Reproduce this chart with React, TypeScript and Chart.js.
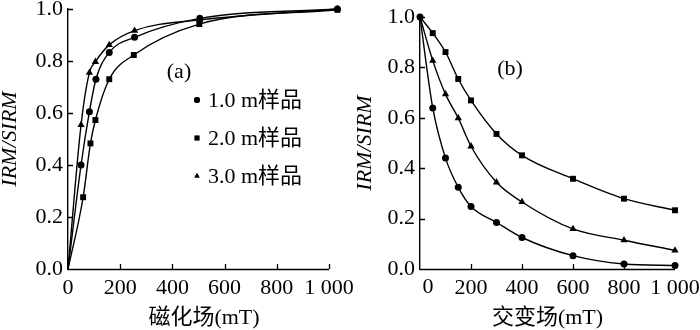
import React, { useEffect, useRef } from "react";
import { Chart, registerables } from "chart.js";
import { drawPoint } from "chart.js/helpers";

Chart.register(...registerables);

// ---------- data ----------
const SERIES_NAMES = ["1.0 m样品", "2.0 m样品", "3.0 m样品"];
const POINT_STYLES = ["circle", "rect", "triangle"];

// (a) IRM acquisition
const A_X_CIRCLE = [0, 50, 82, 107, 158, 255, 505, 1032];
const A_Y_CIRCLE = [0, 0.4, 0.605, 0.73, 0.833, 0.891, 0.964, 1.0];
const A_X_SQUARE = [0, 58, 86, 105, 158, 252, 503, 1032];
const A_Y_SQUARE = [0, 0.276, 0.483, 0.573, 0.73, 0.823, 0.942, 0.997];
const A_X_TRI = [0, 50, 82, 105, 158, 255, 505, 1032];
const A_Y_TRI = [0, 0.554, 0.755, 0.797, 0.862, 0.917, 0.958, 1.0];

// (b) AF demagnetisation
const B_X = [0, 50, 100, 150, 200, 300, 400, 600, 800, 1000];
const B_Y_CIRCLE = [1, 0.639, 0.44, 0.324, 0.248, 0.185, 0.125, 0.053, 0.02, 0.014];
const B_Y_SQUARE = [1, 0.936, 0.861, 0.754, 0.669, 0.536, 0.451, 0.358, 0.279, 0.233];
const B_Y_TRI = [1, 0.827, 0.694, 0.599, 0.487, 0.344, 0.266, 0.159, 0.114, 0.074];

const X_TICKS = [0, 200, 400, 600, 800, 1000];
const Y_TICKS = [0, 0.2, 0.4, 0.6, 0.8, 1.0];

const X_TITLE_A = "磁化场(mT)";
const X_TITLE_B = "交变场(mT)";
const Y_TITLE = "IRM/SIRM";

const FONT = "'Liberation Serif', 'Times New Roman', 'Noto Sans CJK SC', serif";
const FS = 22;

const pts = (xs: number[], ys: number[]) => xs.map((x, i) => ({ x, y: ys[i] }));

// ---------- plugin: axis line, inward ticks, panel label, legend, shifted zero label ----------
const extras = {
  id: "extras",
  afterDraw(chart: any, _args: any, opts: any) {
    const { ctx, chartArea } = chart;
    const xs = chart.scales.x;
    const ys = chart.scales.y;
    ctx.save();
    ctx.strokeStyle = "#000";
    ctx.lineWidth = 1.4;
    // x axis line from 0 to 1000
    ctx.beginPath();
    const by = Math.round(chartArea.bottom) + 0.5;
    ctx.moveTo(xs.getPixelForValue(0), by);
    ctx.lineTo(xs.getPixelForValue(1000), by);
    ctx.stroke();

    ctx.lineWidth = 1.3;
    ctx.beginPath();
    X_TICKS.forEach((v) => {
      if (v === 0) return;
      const px = Math.round(xs.getPixelForValue(v)) + 0.5;
      ctx.moveTo(px, chartArea.bottom);
      ctx.lineTo(px, chartArea.bottom - 5);
    });
    Y_TICKS.forEach((v) => {
      if (v === 0) return;
      const py = Math.round(ys.getPixelForValue(v)) + 0.5;
      ctx.moveTo(chartArea.left, py);
      ctx.lineTo(chartArea.left + 5, py);
    });
    ctx.stroke();

    ctx.fillStyle = "#000";
    ctx.font = `${FS}px ${FONT}`;
    ctx.textAlign = "center";
    ctx.textBaseline = "middle";
    ctx.fillText(opts.label, chartArea.left + opts.labelDx, chartArea.top + opts.labelDy);

    if (opts.zeroShift) {
      ctx.textBaseline = "top";
      ctx.fillText("0", xs.getPixelForValue(0) + opts.zeroShift, chartArea.bottom + 7);
    }

    if (opts.legend) {
      ctx.textAlign = "left";
      ctx.textBaseline = "middle";
      SERIES_NAMES.forEach((name, i) => {
        const ly = chartArea.top + opts.legendY + i * 38;
        const lx = chartArea.left + opts.legendX;
        drawPoint(ctx, { pointStyle: POINT_STYLES[i], radius: i === 1 ? 3.4 : 3, rotation: 0, borderWidth: 0 }, lx, ly);
        ctx.fill();
        ctx.fillText(name, lx + 11, ly + 1);
      });
    }
    ctx.restore();
  },
};

function buildConfig(panel: "a" | "b") {
  const isA = panel === "a";
  const sets = isA
    ? [pts(A_X_CIRCLE, A_Y_CIRCLE), pts(A_X_SQUARE, A_Y_SQUARE), pts(A_X_TRI, A_Y_TRI)]
    : [pts(B_X, B_Y_CIRCLE), pts(B_X, B_Y_SQUARE), pts(B_X, B_Y_TRI)];
  const datasets = sets.map((d, i) => ({
    label: SERIES_NAMES[i],
    data: d,
    borderColor: "#000",
    backgroundColor: "#000",
    borderWidth: 1.4,
    pointStyle: POINT_STYLES[i],
    pointRadius: d.map((p) => (p.x === 0 ? (isA ? 0 : i === 0 ? 3.5 : 0) : i === 1 ? 4.2 : i === 2 ? 4.2 : 3.5)),
    pointBackgroundColor: "#000",
    pointBorderWidth: 0,
    cubicInterpolationMode: "monotone",
    clip: false,
  }));
  return {
    type: "line",
    data: { datasets },
    options: {
      animation: false,
      responsive: false,
      maintainAspectRatio: false,
      layout: { padding: { top: isA ? 9 : 17, right: isA ? 20 : 25, bottom: 0, left: 0 } },
      plugins: {
        legend: { display: false },
        tooltip: { enabled: false },
        extras: isA
          ? { label: "(a)", labelDx: 111, labelDy: 63, legend: true, legendX: 129, legendY: 91 }
          : { label: "(b)", labelDx: 90, labelDy: 52, legend: false, zeroShift: 8 },
      },
      scales: {
        x: {
          type: "linear",
          min: 0,
          max: isA ? 1042 : 1000,
          afterBuildTicks: (s: any) => {
            s.ticks = X_TICKS.map((v) => ({ value: v }));
          },
          afterFit: (s: any) => {
            s.height = 61;
            s.paddingLeft = 0;
            s.paddingRight = 0;
          },
          grid: { display: false, drawTicks: false },
          border: { display: false },
          ticks: {
            color: "#000",
            font: { family: FONT, size: FS },
            padding: 6,
            maxRotation: 0,
            autoSkip: false,
            callback: (v: number) => (v === 0 && !isA ? "" : v === 1000 ? "1 000" : String(v)),
          },
          title: {
            display: true,
            text: isA ? X_TITLE_A : X_TITLE_B,
            color: "#000",
            font: { family: FONT, size: FS, lineHeight: 1.1 },
            padding: { top: 0, bottom: 0 },
          },
        },
        y: {
          type: "linear",
          min: 0,
          max: 1,
          afterBuildTicks: (s: any) => {
            s.ticks = Y_TICKS.map((v) => ({ value: v }));
          },
          afterFit: (s: any) => {
            s.width = isA ? 68 : 70;
            s.paddingTop = 0;
            s.paddingBottom = 0;
          },
          grid: { display: false, drawTicks: false },
          border: { display: true, color: "#000", width: 1.4 },
          ticks: {
            color: "#000",
            font: { family: FONT, size: FS },
            padding: 5,
            callback: (v: number) => v.toFixed(1),
          },
          title: {
            display: true,
            text: Y_TITLE,
            color: "#000",
            font: { family: FONT, size: FS, style: "italic", lineHeight: 1 },
            padding: { top: isA ? -1 : 4, bottom: 0 },
          },
        },
      },
    },
    plugins: [extras],
  };
}

function Panel({ panel, left, width }: { panel: "a" | "b"; left: number; width: number }) {
  const ref = useRef<HTMLCanvasElement>(null);
  useEffect(() => {
    if (!ref.current) return;
    const chart = new Chart(ref.current, buildConfig(panel) as any);
    return () => chart.destroy();
  }, [panel]);
  return (
    <canvas
      ref={ref}
      width={width}
      height={330}
      style={{ position: "absolute", top: 0, left, display: "block", width, height: 330 }}
    />
  );
}

export default function App() {
  useEffect(() => {
    document.body.style.margin = "0";
  }, []);
  return (
    <div style={{ position: "relative", width: 700, height: 330, background: "#fff", overflow: "hidden" }}>
      <Panel panel="a" left={0} width={360} />
      <Panel panel="b" left={350} width={350} />
    </div>
  );
}
